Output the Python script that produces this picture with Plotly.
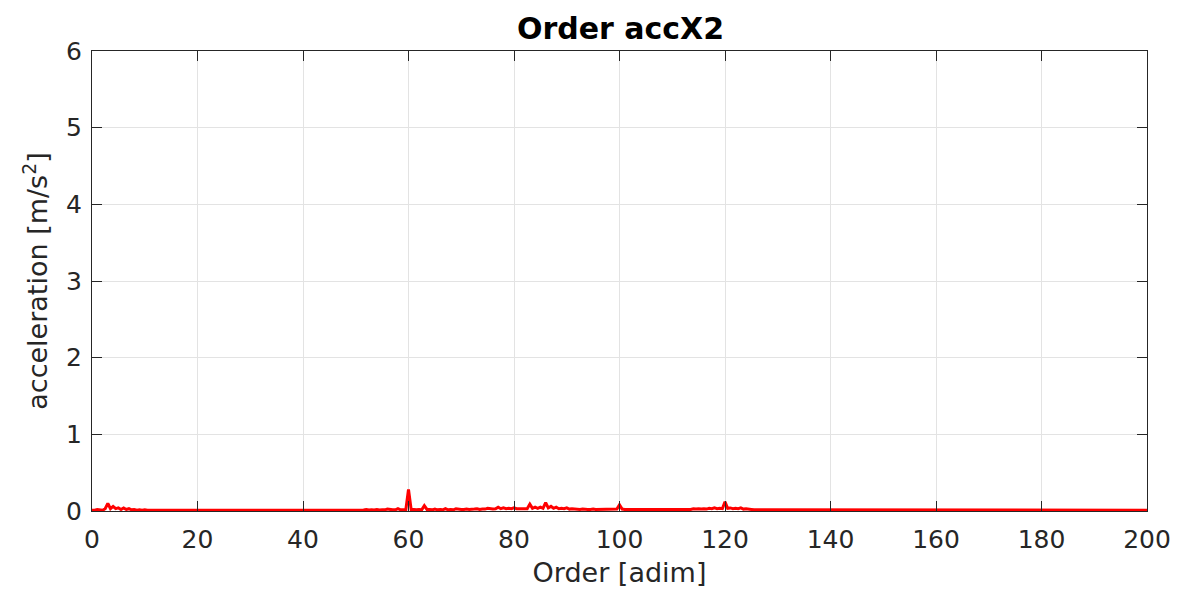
import numpy as np
import plotly.graph_objects as go

# Order spectrum of accX2, sampled every 0.5 order from 0 to 200
order_step = 0.5
order_max = 200

# Amplitude [m/s^2]; each row covers 10 orders (20 samples)
amplitude = [
    # 0-10
    0.010, 0.010, 0.020, 0.010, 0.010, 0.030, 0.100, 0.030, 0.060, 0.030,
    0.040, 0.020, 0.040, 0.020, 0.030, 0.015, 0.020, 0.010, 0.015, 0.010,
    # 10-20
    0.015, 0.010, 0.010, 0.015, 0.010, 0.010, 0.012, 0.010, 0.010, 0.015,
    0.010, 0.010, 0.010, 0.012, 0.010, 0.010, 0.010, 0.010, 0.012, 0.010,
    # 20-30
    0.010, 0.010, 0.010, 0.010, 0.012, 0.010, 0.010, 0.010, 0.010, 0.010,
    0.010, 0.012, 0.010, 0.010, 0.010, 0.010, 0.010, 0.010, 0.012, 0.010,
    # 30-40
    0.010, 0.010, 0.010, 0.010, 0.010, 0.012, 0.010, 0.010, 0.010, 0.010,
    0.010, 0.010, 0.012, 0.010, 0.010, 0.010, 0.010, 0.010, 0.010, 0.012,
    # 40-50
    0.010, 0.010, 0.010, 0.012, 0.010, 0.010, 0.010, 0.010, 0.012, 0.010,
    0.010, 0.010, 0.012, 0.010, 0.010, 0.015, 0.010, 0.012, 0.010, 0.012,
    # 50-60
    0.012, 0.012, 0.015, 0.012, 0.020, 0.012, 0.015, 0.012, 0.020, 0.012,
    0.015, 0.015, 0.025, 0.015, 0.015, 0.015, 0.030, 0.015, 0.015, 0.020,
    # 60-70
    0.280, 0.020, 0.020, 0.015, 0.020, 0.015, 0.070, 0.020, 0.020, 0.015,
    0.025, 0.015, 0.020, 0.015, 0.030, 0.015, 0.020, 0.015, 0.030, 0.020,
    # 70-80
    0.020, 0.020, 0.025, 0.020, 0.020, 0.025, 0.030, 0.020, 0.025, 0.025,
    0.035, 0.025, 0.025, 0.030, 0.050, 0.030, 0.040, 0.030, 0.035, 0.030,
    # 80-90
    0.040, 0.030, 0.030, 0.030, 0.035, 0.030, 0.090, 0.035, 0.050, 0.035,
    0.050, 0.035, 0.110, 0.040, 0.060, 0.035, 0.050, 0.030, 0.035, 0.030,
    # 90-100
    0.040, 0.025, 0.030, 0.025, 0.025, 0.020, 0.025, 0.020, 0.020, 0.020,
    0.025, 0.020, 0.020, 0.020, 0.020, 0.020, 0.020, 0.020, 0.025, 0.025,
    # 100-110
    0.080, 0.025, 0.020, 0.020, 0.020, 0.020, 0.020, 0.020, 0.025, 0.020,
    0.020, 0.020, 0.020, 0.020, 0.025, 0.020, 0.020, 0.020, 0.020, 0.020,
    # 110-120
    0.020, 0.020, 0.025, 0.020, 0.025, 0.020, 0.025, 0.020, 0.030, 0.025,
    0.030, 0.025, 0.030, 0.025, 0.035, 0.030, 0.040, 0.030, 0.035, 0.030,
    # 120-130
    0.120, 0.035, 0.040, 0.030, 0.035, 0.030, 0.040, 0.025, 0.030, 0.020,
    0.020, 0.015, 0.015, 0.012, 0.012, 0.010, 0.012, 0.010, 0.010, 0.010,
    # 130-140
    0.010, 0.010, 0.010, 0.010, 0.010, 0.010, 0.010, 0.010, 0.010, 0.010,
    0.010, 0.010, 0.010, 0.010, 0.010, 0.010, 0.010, 0.010, 0.010, 0.010,
    # 140-150
    0.012, 0.010, 0.010, 0.010, 0.010, 0.010, 0.010, 0.010, 0.010, 0.010,
    0.010, 0.010, 0.010, 0.010, 0.010, 0.010, 0.010, 0.010, 0.010, 0.010,
    # 150-160
    0.010, 0.010, 0.010, 0.010, 0.010, 0.010, 0.010, 0.010, 0.010, 0.010,
    0.010, 0.010, 0.010, 0.010, 0.010, 0.010, 0.010, 0.010, 0.010, 0.010,
    # 160-170
    0.012, 0.010, 0.010, 0.010, 0.010, 0.010, 0.010, 0.010, 0.010, 0.010,
    0.010, 0.010, 0.010, 0.010, 0.010, 0.010, 0.010, 0.010, 0.010, 0.010,
    # 170-180
    0.010, 0.010, 0.010, 0.010, 0.010, 0.010, 0.010, 0.010, 0.010, 0.010,
    0.010, 0.010, 0.010, 0.010, 0.010, 0.010, 0.010, 0.010, 0.010, 0.010,
    # 180-190
    0.015, 0.010, 0.010, 0.010, 0.010, 0.010, 0.010, 0.010, 0.010, 0.010,
    0.010, 0.010, 0.010, 0.010, 0.010, 0.010, 0.010, 0.010, 0.010, 0.010,
    # 190-200
    0.010, 0.010, 0.010, 0.010, 0.010, 0.010, 0.010, 0.010, 0.010, 0.010,
    0.010, 0.010, 0.010, 0.010, 0.010, 0.010, 0.010, 0.010, 0.010, 0.010,
    # 200
    0.010,
]

orders = np.arange(len(amplitude)) * order_step

x_ticks = [0, 20, 40, 60, 80, 100, 120, 140, 160, 180, 200]
y_ticks = [0, 1, 2, 3, 4, 5, 6]

title_text = "<b>Order accX2</b>"
x_title = "Order [adim]"
y_title = "acceleration [m/s<sup>2</sup>]"

font_family = "DejaVu Sans, Liberation Sans, sans-serif"
text_color = "#262626"
frame_color = "#262626"
grid_color = "#e3e3e3"

fig = go.Figure()
fig.add_trace(go.Scatter(
    x=orders, y=amplitude, mode="lines",
    line=dict(color="#ff0000", width=3),
    showlegend=False,
))

axis_common = dict(
    showline=True, linecolor=frame_color, linewidth=1, mirror="ticks",
    ticks="inside", ticklen=10, tickwidth=1, tickcolor=frame_color,
    showgrid=True, gridcolor=grid_color, gridwidth=1,
    zeroline=False,
    tickfont=dict(family=font_family, size=25, color=text_color),
)

fig.update_layout(
    width=1183, height=595,
    margin=dict(l=92, r=34, t=51, b=84),
    paper_bgcolor="white", plot_bgcolor="white",
    title=dict(
        text=title_text, x=(92 + 1149) / 2 / 1183, xanchor="center",
        y=1 - 28 / 595, yanchor="middle",
        font=dict(family=font_family, size=30, color="black"),
    ),
    xaxis=dict(
        range=[0, order_max], tickvals=x_ticks, ticklabelstandoff=6,
        title=dict(text=x_title, standoff=10,
                   font=dict(family=font_family, size=27, color=text_color)),
        **axis_common,
    ),
    yaxis=dict(
        range=[0, 6], tickvals=y_ticks, ticklabelstandoff=4,
        title=dict(text=y_title, standoff=10,
                   font=dict(family=font_family, size=27, color=text_color)),
        **axis_common,
    ),
)

fig.write_html("out.html")
